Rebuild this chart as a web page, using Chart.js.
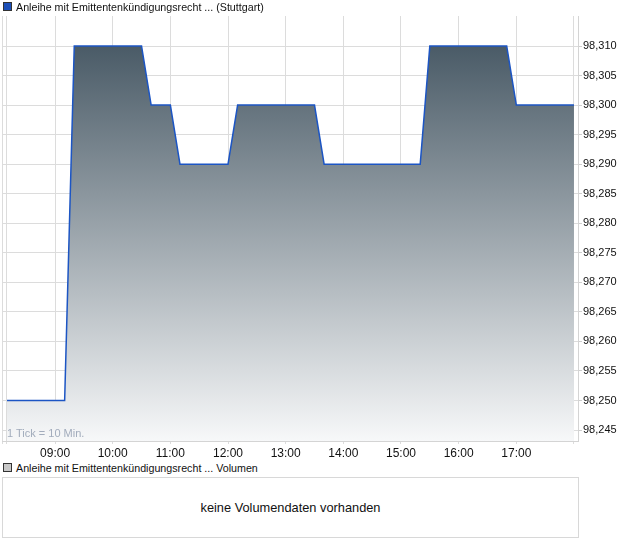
<!DOCTYPE html>
<html>
<head>
<meta charset="utf-8">
<script src="https://cdn.jsdelivr.net/npm/chart.js@4"></script>
<style>
  body { margin: 0; background: #fff; font-family: "Liberation Sans", Arial, sans-serif; }
  #wrap { position: relative; width: 620px; height: 546px; }
  .legend { position: absolute; left: 3px; color: #111; white-space: nowrap; font-size: 10.7px; }
  .legend .box { display: inline-block; width: 7px; height: 7px; border: 1px solid #333; margin-right: 4px; vertical-align: 0px; }
  #chartBox { position: absolute; left: 0; top: 0; width: 620px; height: 462px; }
  #tickNote { position: absolute; left: 7px; top: 427px; font-size: 11px; color: #a2acbc; }
  #volBox { position: absolute; left: 2px; top: 477px; width: 575px; height: 59px; border: 1px solid #d8d8d8;
            font-size: 12.8px; color: #111; text-align: center; line-height: 59px; }
</style>
</head>
<body>
<div id="wrap">
  <div id="chartBox"><canvas id="price-chart"></canvas></div>
  <div class="legend" style="top:1px;"><span class="box" style="background:#1c4fb8;"></span>Anleihe mit Emittentenkündigungsrecht ... (Stuttgart)</div>
  <div id="tickNote">1 Tick = 10 Min.</div>
  <div class="legend" style="top:462px;"><span class="box" style="background:#c8c8c8;"></span>Anleihe mit Emittentenkündigungsrecht ... Volumen</div>
  <div id="volBox">keine Volumendaten vorhanden</div>
</div>
<script>
// trade times (HH:MM) and prices
const times = ['08:10', '09:10', '09:20', '10:30', '10:40', '11:00', '11:10', '12:00',
               '12:10', '13:30', '13:40', '15:20', '15:30', '16:50', '17:00', '18:00'];
const prices = [98.250, 98.250, 98.310, 98.310, 98.300, 98.300, 98.290, 98.290,
                98.300, 98.300, 98.290, 98.290, 98.310, 98.310, 98.300, 98.300];
const xGridTimes = ['08:10', '09:00', '10:00', '11:00', '12:00', '13:00', '14:00',
                    '15:00', '16:00', '17:00', '18:00'];
const hourLabels = ['09:00', '10:00', '11:00', '12:00', '13:00', '14:00', '15:00', '16:00', '17:00'];
const yTicks = [98.245, 98.250, 98.255, 98.260, 98.265, 98.270, 98.275, 98.280,
                98.285, 98.290, 98.295, 98.300, 98.305, 98.310];

function toMin(t) {
    const [h, m] = t.split(':').map(Number);
    return h * 60 + m;
}
function fromMin(v) {
    const h = Math.floor(v / 60), m = Math.round(v % 60);
    return String(h).padStart(2, '0') + ':' + String(m).padStart(2, '0');
}

const points = times.map((t, i) => ({ x: toMin(t), y: prices[i] }));
const xMin = 484.8, xMax = 1084.2;

const ctx = document.getElementById('price-chart').getContext('2d');
const priceChart = new Chart(ctx, {
    type: 'line',
    data: {
        datasets: [{
            data: points,
            borderColor: '#1c55c4',
            borderWidth: 1.5,
            pointRadius: 0,
            tension: 0,
            fill: 'start',
            backgroundColor: (c) => {
                const area = c.chart.chartArea;
                if (!area) return '#8a969e';
                const top = c.chart.scales.y.getPixelForValue(98.310);
                const g = c.chart.ctx.createLinearGradient(0, top, 0, area.bottom);
                g.addColorStop(0, '#4a5b67');
                g.addColorStop(1, '#f7f8f9');
                return g;
            }
        }]
    },
    options: {
        responsive: true,
        maintainAspectRatio: false,
        animation: false,
        layout: { padding: { top: 16, left: 2, right: 0, bottom: 0 } },
        plugins: { legend: { display: false }, tooltip: { enabled: false } },
        scales: {
            x: {
                type: 'linear',
                min: xMin,
                max: xMax,
                // left border line plus the 10-min start and hourly grid lines
                afterBuildTicks: (s) => {
                    s.ticks = [{ value: xMin }].concat(xGridTimes.map(t => ({ value: toMin(t) })));
                },
                afterFit: (s) => { s.height = 21; },
                grid: { color: '#dcdcdc', tickLength: 3, tickColor: '#dcdcdc' },
                border: { color: '#d4d4d4' },
                ticks: {
                    autoSkip: false,
                    maxRotation: 0,
                    padding: 2,
                    color: '#111',
                    font: { family: '"Liberation Sans", Arial, sans-serif', size: 12 },
                    callback: (v) => hourLabels.includes(fromMin(v)) ? fromMin(v) : ''
                }
            },
            y: {
                position: 'right',
                min: 98.24314,
                max: 98.31508,
                afterBuildTicks: (s) => { s.ticks = yTicks.map(v => ({ value: v })); },
                afterFit: (s) => { s.width = 42; },
                grid: { color: '#dcdcdc', tickLength: 4, tickColor: '#cfcfcf' },
                border: { color: '#d4d4d4' },
                ticks: {
                    padding: 1,
                    color: '#111',
                    font: { family: '"Liberation Sans", Arial, sans-serif', size: 11 },
                    callback: (v) => v.toFixed(3).replace('.', ',')
                }
            }
        }
    }
});
</script>
</body>
</html>
